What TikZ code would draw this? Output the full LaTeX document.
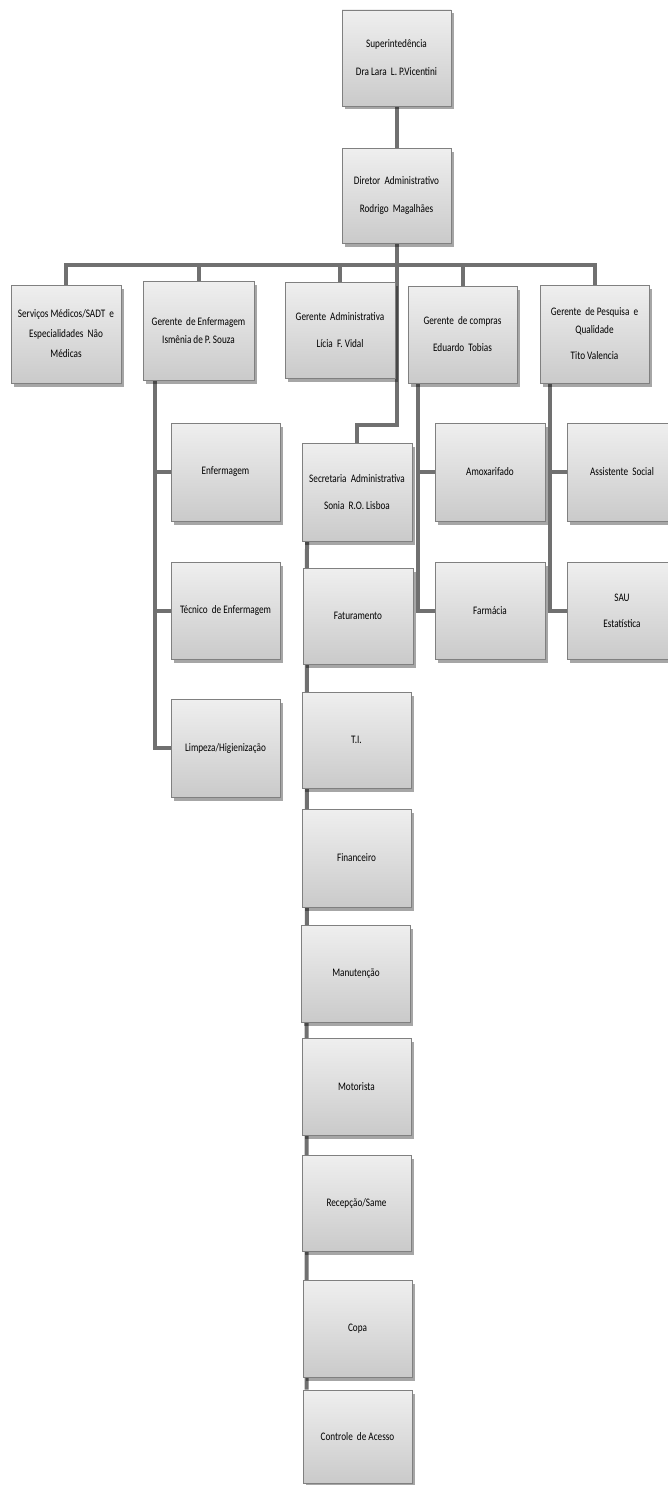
\documentclass[tikz,border=0pt]{standalone}
\usepackage{fontspec}
\newfontfamily\orgfont[FakeStretch=0.8]{Carlito}
\usetikzlibrary{shadows}
\pgfdeclarelayer{background}
\pgfsetlayers{background,main}
\definecolor{linegray}{HTML}{707070}
\definecolor{boxtop}{HTML}{EFEFEF}
\definecolor{boxbot}{HTML}{CACACA}
\definecolor{boxedge}{HTML}{808080}
\tikzset{
  orgbox/.style={draw=boxedge, line width=0.9pt, top color=boxtop, bottom color=boxbot,
    minimum width=110pt, minimum height=97pt, inner sep=0pt, align=center,
    font=\orgfont\fontsize{11.5}{13}\selectfont, text=black,
    drop shadow={shadow xshift=2.5pt, shadow yshift=-3.5pt, opacity=0.35, fill=black}},
  conn/.style={draw=linegray, line width=4pt, line cap=butt, line join=miter}
}
\begin{document}
\begin{tikzpicture}[x=1pt,y=-1pt]
\useasboundingbox (0,0) rectangle (668,1485);
% top levels
\node[orgbox, minimum width=109pt, minimum height=96pt] (sup) at (396.5,58) {Superintedência\\[15pt]Dra Lara\ \ L. P.Vicentini};
\node[orgbox, minimum width=109pt, minimum height=95pt] (dir) at (396.5,195.5) {Diretor\ \ Administrativo\\[15pt]Rodrigo\ \ Magalhães};
% managers
\node[orgbox, minimum height=98pt] (ser) at (66,334) {Serviços\ Médicos/SADT\ \ e\\[7pt]Especialidades\ \ Não\\[7pt]Médicas};
\node[orgbox, minimum width=111pt, minimum height=99pt] (genf) at (198.5,331) {Gerente\ \ de\ Enfermagem\\[5pt]Ismênia de P. Souza};
\node[orgbox, minimum height=96pt] (gadm) at (340,330) {Gerente\ \ Administrativa\\[14pt]Lícia\ \ F. Vidal};
\node[orgbox, minimum width=109pt] (gcom) at (462.5,334.5) {Gerente\ \ de\ compras\\[14pt]Eduardo\ \ Tobias};
\node[orgbox, minimum width=109pt, minimum height=98pt] (gpes) at (594.5,334) {Gerente\ \ de\ Pesquisa\ \ e\\[5pt]Qualidade\\[13pt]Tito Valencia};
% nursing column
\node[orgbox, minimum width=109pt, minimum height=98pt] (enf) at (225.5,472) {Enfermagem};
\node[orgbox, minimum width=109pt] (tec) at (225.5,610.5) {Técnico\ \ de Enfermagem};
\node[orgbox, minimum width=109pt, minimum height=98pt] (lim) at (225.5,748) {Limpeza/Higienização};
% purchases column
\node[orgbox, minimum height=98pt] (amo) at (490,472) {Amoxarifado};
\node[orgbox] (far) at (490,610.5) {Farmácia};
% research column
\node[orgbox, minimum height=98pt] (ass) at (622,472) {Assistente\ \ Social};
\node[orgbox] (sau) at (622,610.5) {SAU\\[13pt]Estatística};
% secretary column
\node[orgbox, minimum height=98pt] (sec) at (357,492) {Secretaria\ \ Administrativa\\[14pt]Sonia\ \ R.O. Lisboa};
\node[orgbox, minimum height=96pt] (fat) at (358,616) {Faturamento};
\node[orgbox, minimum width=109pt, minimum height=96pt] (ti) at (356.5,740) {T.I.};
\node[orgbox, minimum width=109pt, minimum height=98pt] (fin) at (356.5,858) {Financeiro};
\node[orgbox, minimum width=109pt, minimum height=97pt] (man) at (356,973.5) {Manutenção};
\node[orgbox, minimum width=109pt, minimum height=97pt] (mot) at (356.5,1086.5) {Motorista};
\node[orgbox, minimum width=109pt, minimum height=96pt] (rec) at (356.5,1203) {Recepção/Same};
\node[orgbox, minimum width=109pt, minimum height=97pt] (copa) at (357.5,1328.5) {Copa};
\node[orgbox, minimum width=109pt, minimum height=93pt] (ctl) at (357.5,1436.5) {Controle\ \ de Acesso};
% connectors
\begin{pgfonlayer}{background}
\draw[conn] (sup.south) -- (dir.south);
\foreach \c in {ser,genf,gadm,gcom,gpes}
  \draw[conn] (dir.south) -- ++(0,22) -| (\c.north);
\draw[conn] (dir.south) -- ++(0,182) -| (sec.north);
\foreach \c in {enf,tec,lim}
  \draw[conn] ([xshift=-43.5pt]genf.south) |- (\c.west);
\foreach \c in {amo,far}
  \draw[conn] ([xshift=-44.5pt]gcom.south) |- (\c.west);
\foreach \c in {ass,sau}
  \draw[conn] ([xshift=-44.5pt]gpes.south) |- (\c.west);
\draw[conn] ([xshift=-50pt]sec.south) -- ([xshift=-51pt]ctl.north);
\end{pgfonlayer}
\end{tikzpicture}
\end{document}
